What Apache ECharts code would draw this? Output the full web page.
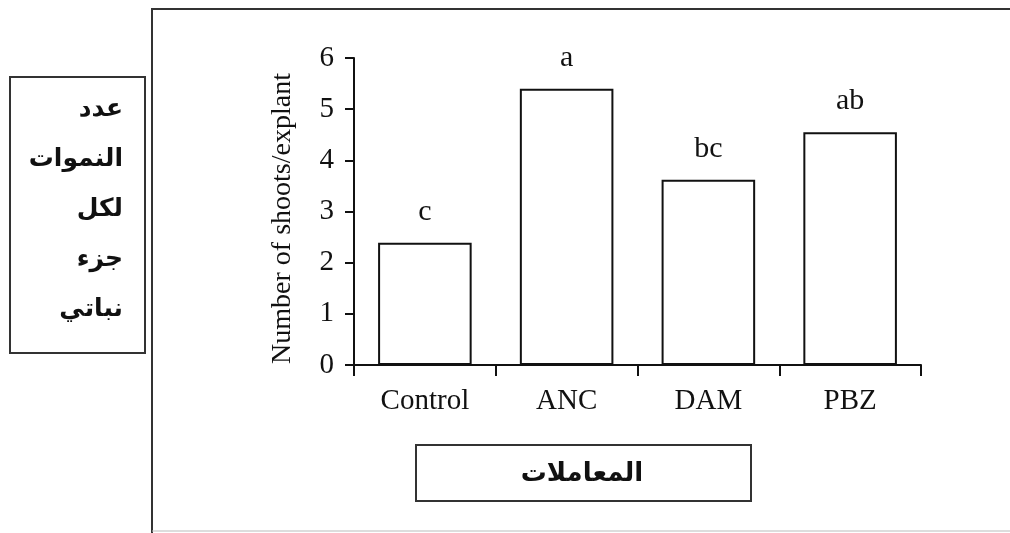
<!DOCTYPE html>
<html>
<head>
<meta charset="utf-8">
<script src="https://cdn.jsdelivr.net/npm/echarts@6/dist/echarts.min.js"></script>
<style>html,body{margin:0;padding:0;background:#fff}#c{width:1010px;height:533px}</style>
</head>
<body>
<div id="c"></div>
<script>
const categories = ['Control', 'ANC', 'DAM', 'PBZ'];
const shoots = [2.39, 5.40, 3.62, 4.55];
const letters = ['c', 'a', 'bc', 'ab'];
const yTicks = [0, 1, 2, 3, 4, 5, 6];
const yTitle = 'Number of shoots/explant';
const leftBoxLines = ['عدد', 'النموات', 'لكل', 'جزء', 'نباتي'];
const bottomBoxText = 'المعاملات';

const chart = echarts.init(document.getElementById('c'), null, {renderer: 'canvas'});
const serif = '"Liberation Serif", "DejaVu Serif", serif';
const arab = '"DejaVu Sans", sans-serif';
const ink = '#111';

const graphics = [
  {type: 'line', shape: {x1: 152, y1: 8, x2: 152, y2: 533}, style: {stroke: '#333', lineWidth: 2}, silent: true},
  {type: 'line', shape: {x1: 151, y1: 9, x2: 1010, y2: 9}, style: {stroke: '#333', lineWidth: 2}, silent: true},
  {type: 'line', shape: {x1: 152, y1: 531, x2: 1010, y2: 531}, style: {stroke: '#bbb', lineWidth: 1}, silent: true},
  {type: 'rect', shape: {x: 10, y: 77, width: 135, height: 276}, style: {fill: '#fff', stroke: '#333', lineWidth: 2}, silent: true},
  {type: 'rect', shape: {x: 416, y: 445, width: 335, height: 56}, style: {fill: '#fff', stroke: '#333', lineWidth: 2}, silent: true},
  {type: 'text', x: 582, y: 474, style: {text: bottomBoxText, font: 'bold 26px ' + arab, fill: ink, align: 'center', verticalAlign: 'middle'}, silent: true}
];
leftBoxLines.forEach(function (t, i) {
  graphics.push({type: 'text', x: 123, y: 109 + i * 50, style: {text: t, font: 'bold 25px ' + arab, fill: ink, align: 'right', verticalAlign: 'middle'}, silent: true});
});

chart.setOption({
  animation: false,
  backgroundColor: '#fff',
  grid: {left: 354, right: 89, top: 58, bottom: 168, containLabel: false},
  xAxis: {
    type: 'category',
    data: categories,
    boundaryGap: true,
    axisLine: {lineStyle: {color: ink, width: 2}},
    axisTick: {show: true, inside: false, length: 11, alignWithLabel: false, lineStyle: {color: ink, width: 2}},
    axisLabel: {color: ink, fontFamily: serif, fontSize: 29, margin: 22},
    splitLine: {show: false}
  },
  yAxis: {
    type: 'value',
    min: yTicks[0],
    max: yTicks[yTicks.length - 1],
    interval: 1,
    name: yTitle,
    nameLocation: 'middle',
    nameGap: 57,
    nameRotate: 90,
    nameTextStyle: {color: ink, fontFamily: serif, fontSize: 28, padding: [0, 14, 0, 0]},
    axisLine: {show: true, lineStyle: {color: ink, width: 2}},
    axisTick: {show: true, inside: false, length: 9, lineStyle: {color: ink, width: 2}},
    axisLabel: {color: ink, fontFamily: serif, fontSize: 29, margin: 20},
    splitLine: {show: false}
  },
  series: [{
    type: 'bar',
    data: shoots,
    barWidth: '66%',
    itemStyle: {color: '#fff', borderColor: ink, borderWidth: 2},
    label: {
      show: true,
      position: 'top',
      distance: 16,
      formatter: function (p) { return letters[p.dataIndex]; },
      color: ink,
      fontFamily: serif,
      fontSize: 30
    },
    emphasis: {disabled: true}
  }],
  graphic: graphics
});
</script>
</body>
</html>
